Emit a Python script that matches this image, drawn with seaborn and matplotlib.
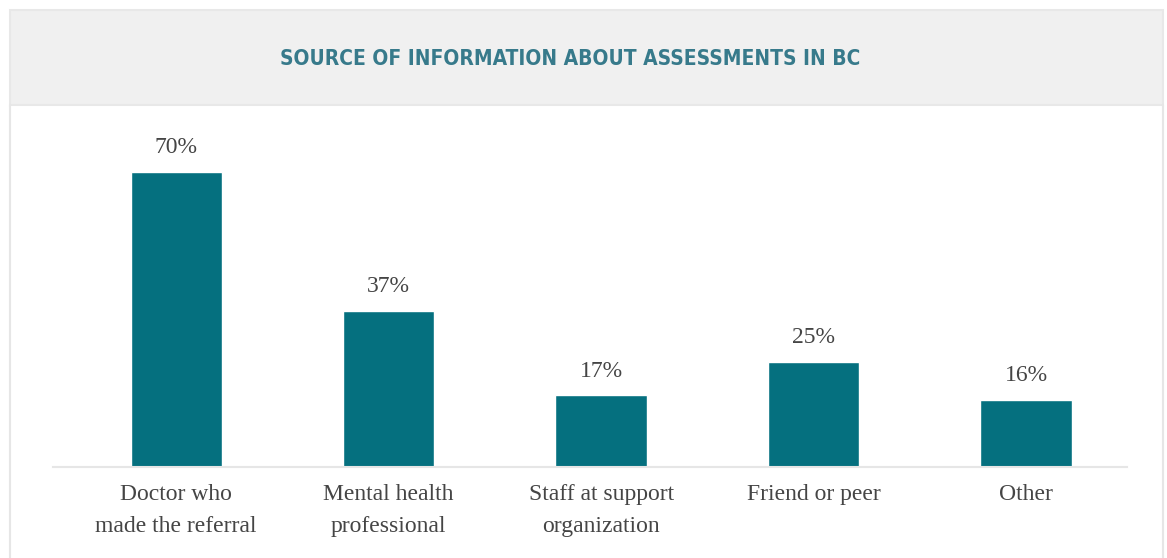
import pandas as pd
import seaborn as sns
import matplotlib.pyplot as plt
from matplotlib.patches import Rectangle
from matplotlib.lines import Line2D

categories = ["Doctor who\nmade the referral", "Mental health\nprofessional",
              "Staff at support\norganization", "Friend or peer", "Other"]
shares = [70, 37, 17, 25, 16]
value_labels = ["70%", "37%", "17%", "25%", "16%"]
title = "SOURCE OF INFORMATION ABOUT ASSESSMENTS IN BC"

BAR = "#05707f"
TITLE_C = "#377a8b"
TEXT_C = "#454545"
LINE_C = "#e6e6e6"
W, H = 1167, 558

sns.set_theme(style="white")
serif = ["Liberation Serif", "DejaVu Serif"]

fig = plt.figure(figsize=(W / 100, H / 100), dpi=100)
fig.patch.set_facecolor("white")

# --- panel frame and header band ---
fig.patches.append(Rectangle((10 / W, 1 - 105 / H), 1153 / W, 95 / H,
                             transform=fig.transFigure, facecolor="#f0f0f0",
                             edgecolor="#e8e8e8", linewidth=1.5, zorder=0))
for x in (10, 1163):
    fig.lines.append(Line2D([x / W, x / W], [0, 1 - 105 / H], transform=fig.transFigure,
                            color=LINE_C, linewidth=1.5))
fig.text(570 / W, 1 - 59 / H, title, ha="center", va="center", color=TITLE_C,
         fontsize=15, fontweight="bold", fontstretch="condensed",
         family=["DejaVu Sans"])

# --- bars ---
df = pd.DataFrame({"category": categories, "share": shares})
ax = fig.add_axes([53 / W, 1 - 467 / H, 1074 / W, (467 - 115) / H])
sns.barplot(data=df, x="category", y="share", color=BAR, width=0.43,
            saturation=1, ax=ax)
ax.set_xlim(-0.58, 4.475)
ax.set_ylim(0, 83.5)

for i, (v, lab) in enumerate(zip(shares, value_labels)):
    ax.annotate(lab, (i, v), xytext=(0, 13.5), textcoords="offset points",
                ha="center", va="baseline", fontsize=17, color=TEXT_C, family=serif)

ax.set_xlabel("")
ax.set_ylabel("")
ax.set_yticks([])
ax.tick_params(axis="x", length=0, pad=12)
for t in ax.get_xticklabels():
    t.set_fontfamily(serif)
    t.set_fontsize(17)
    t.set_color(TEXT_C)
    t.set_linespacing(1.7)

sns.despine(ax=ax, left=True)
ax.spines["bottom"].set_color(LINE_C)
ax.spines["bottom"].set_linewidth(1.5)
ax.set_facecolor("none")

fig.savefig("out.png", dpi=100)
